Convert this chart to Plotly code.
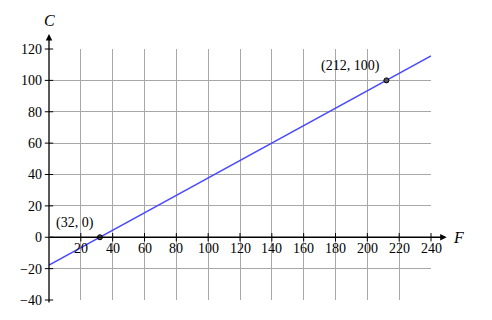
import plotly.graph_objects as go

# Data
line_f = [0, 240]
line_c = [-17.78, 115.56]
pts_f = [32, 212]
pts_c = [0, 100]
pts_labels = ["(32, 0)", "(212, 100)"]
x_ticks = [20, 40, 60, 80, 100, 120, 140, 160, 180, 200, 220, 240]
y_ticks = [-40, -20, 0, 20, 40, 60, 80, 100, 120]

FONT = "Liberation Serif"
FS = 14

fig = go.Figure()
fig.add_trace(go.Scatter(x=line_f, y=line_c, mode="lines",
                         line=dict(color="#4a4aff", width=1.5),
                         hoverinfo="skip", cliponaxis=False))
# tick marks on the x axis (at C = 0)
fig.add_trace(go.Scatter(x=x_ticks, y=[0] * len(x_ticks), mode="markers",
                         marker=dict(symbol="line-ns-open", size=6, color="black",
                                     line=dict(color="black", width=1)),
                         hoverinfo="skip", cliponaxis=False))
# tick marks on the y axis (at F = 0)
fig.add_trace(go.Scatter(x=[0] * len(y_ticks), y=y_ticks, mode="markers",
                         marker=dict(symbol="line-ew-open", size=6, color="black",
                                     line=dict(color="black", width=1)),
                         hoverinfo="skip", cliponaxis=False))
fig.add_trace(go.Scatter(x=pts_f, y=pts_c, mode="markers",
                         marker=dict(size=5, color="#555555",
                                     line=dict(color="black", width=1)),
                         hoverinfo="skip", cliponaxis=False))

annotations = []
for xv in x_ticks:
    annotations.append(dict(x=xv, y=0, xref="x", yref="y", text=str(xv),
                            showarrow=False, yanchor="top", yshift=-2,
                            font=dict(family=FONT, size=FS, color="black")))
for fx, cy, lab in zip(pts_f, pts_c, pts_labels):
    annotations.append(dict(x=fx, y=cy, xref="x", yref="y", text=lab,
                            showarrow=False, xanchor="right", yanchor="bottom",
                            xshift=-4, yshift=4,
                            font=dict(family=FONT, size=FS, color="black")))
# axes with arrows
annotations.append(dict(x=1.041, y=0.25, xref="paper", yref="paper",
                        ax=-398, ay=0, axref="pixel", ayref="pixel", text="",
                        showarrow=True, arrowhead=2, arrowsize=1, arrowwidth=1.3,
                        arrowcolor="black"))
annotations.append(dict(x=0, y=1.06, xref="paper", yref="paper",
                        ax=0, ay=270, text="", showarrow=True, arrowhead=2,
                        arrowsize=1, arrowwidth=1.3, arrowcolor="black"))
annotations.append(dict(x=0, y=1.115, xref="paper", yref="paper", text="<i>C</i>",
                        showarrow=False, xanchor="center", yanchor="middle",
                        font=dict(family=FONT, size=16, color="black")))
annotations.append(dict(x=1.071, y=0.25, xref="paper", yref="paper", text="<i>F</i>",
                        showarrow=False, xanchor="center", yanchor="middle",
                        font=dict(family=FONT, size=16, color="black")))

fig.update_layout(
    width=492, height=320,
    margin=dict(l=49, r=61, t=49, b=16),
    paper_bgcolor="white", plot_bgcolor="white",
    showlegend=False,
    annotations=annotations,
    xaxis=dict(range=[0, 240], tickvals=[0] + x_ticks, showticklabels=False,
               showgrid=True, gridcolor="#a8a8a8", gridwidth=1,
               zeroline=False, showline=False, ticks="", fixedrange=True),
    yaxis=dict(range=[-40, 120], tickvals=y_ticks, showgrid=True,
               gridcolor="#a8a8a8", gridwidth=1, zeroline=False,
               showline=False, ticks="", ticklabelstandoff=6,
               tickfont=dict(family=FONT, size=FS, color="black"),
               fixedrange=True),
)

fig.write_html("out.html")
